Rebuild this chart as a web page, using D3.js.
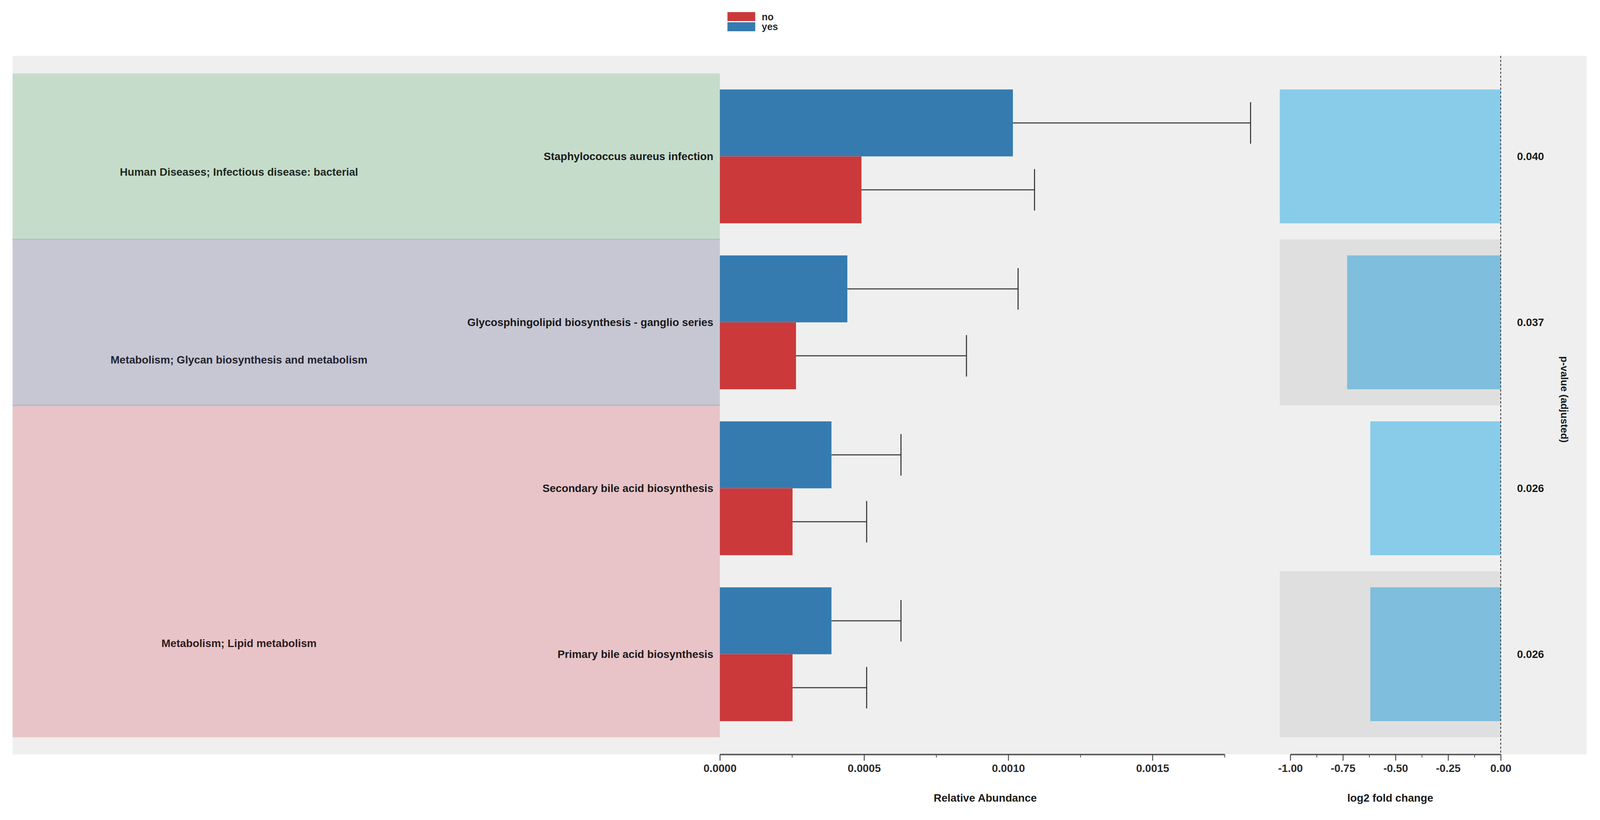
<!DOCTYPE html>
<html>
<head>
<meta charset="utf-8">
<script src="https://cdn.jsdelivr.net/npm/d3@7.9.0/dist/d3.min.js"></script>
<style>
  html, body { margin: 0; padding: 0; background: #fff; overflow: hidden; }
  #chart { width: 100vw; height: 100vh; }
  svg { display: block; width: 100%; height: 100%; font-family: "Liberation Sans", Arial, sans-serif; font-weight: bold; }
</style>
</head>
<body>
<div id="chart"></div>
<script>
/* ── data ─────────────────────────────────────────────────── */
const pathways = [
  'Staphylococcus aureus infection',
  'Glycosphingolipid biosynthesis - ganglio series',
  'Secondary bile acid biosynthesis',
  'Primary bile acid biosynthesis'
];
const categories = [
  'Human Diseases; Infectious disease: bacterial',
  'Metabolism; Glycan biosynthesis and metabolism',
  'Metabolism; Lipid metabolism'
];
const pathwayCategory = [categories[0], categories[1], categories[2], categories[2]];

const groupsLegend = ['no', 'yes'];
const meanYes = [0.001016, 0.000442, 0.000387, 0.000387];
const errYes  = [0.000824, 0.000592, 0.000241, 0.000241];
const meanNo  = [0.000491, 0.000264, 0.000252, 0.000252];
const errNo   = [0.000600, 0.000591, 0.000257, 0.000257];
const log2fc  = [-1.05, -0.73, -0.62, -0.62];
const pAdj    = [0.040, 0.037, 0.026, 0.026];

const abundTicks = [0, 0.0005, 0.001, 0.0015];
const abundMinor = [0.00025, 0.00075, 0.00125, 0.00175];
const fcTicks = [-1, -0.75, -0.5, -0.25, 0];
const fcMinor = [-0.875, -0.625, -0.375, -0.125];

/* ── layout (designed on a 4432 x 2100 canvas; y stretched to the window) ── */
const W = 4432, H0 = 2100;
const vw = window.innerWidth || W, vh = window.innerHeight || H0;
const H = W * vh / vw;
const ky = H / H0;
const Y = v => v * ky;

const panel = { left: 35, right: 4395, top: Y(143), bottom: Y(1932) };
const rowsTop = Y(188), rowsBottom = Y(1888);
const abund = { left: 1994, right: 3464 };
const fc = { left: 3545, right: 4157 };

const groupColor = d3.scaleOrdinal(categories, ['#c6dccb', '#c7c7d4', '#e8c4c8']);
const groupText  = d3.scaleOrdinal(categories, ['#1e2a22', '#23232f', '#2e1c1e']);
const groupColorDk = d3.scaleOrdinal(categories, ['#a9c3bf', '#b3b3c4', '#dcb4b8']);
const barColor = d3.scaleOrdinal(groupsLegend, ['#cb393b', '#357bb0']);

const rows = pathways.map((p, i) => ({
  pathway: p, category: pathwayCategory[i], i,
  yes: meanYes[i], yesErr: errYes[i],
  no: meanNo[i], noErr: errNo[i],
  fc: log2fc[i], p: pAdj[i]
}));

const y = d3.scaleBand().domain(pathways).range([rowsTop, rowsBottom]);
const sub = d3.scaleBand().domain(['yes', 'no']).range([0, y.bandwidth()]).paddingOuter(0.24);

const x = d3.scaleLinear()
  .domain([0, d3.max(rows, d => Math.max(d.yes + d.yesErr, d.no + d.noErr))])
  .range([abund.left, abund.right]);
const xf = d3.scaleLinear()
  .domain([d3.min(rows, d => d.fc), 0])
  .range([fc.left, fc.right]);

const svg = d3.select('#chart').append('svg')
  .attr('viewBox', `0 0 ${W} ${H}`)
  .attr('preserveAspectRatio', 'xMidYMid meet');

/* background panel */
svg.append('rect')
  .attr('x', panel.left).attr('y', panel.top)
  .attr('width', panel.right - panel.left).attr('height', panel.bottom - panel.top)
  .attr('fill', '#efefef');

/* category boxes */
const cats = d3.groups(rows, d => d.category).map(([c, arr]) => ({
  category: c,
  top: y(arr[0].pathway),
  bottom: y(arr[arr.length - 1].pathway) + y.bandwidth()
}));
const labelFrac = [0.595, 0.725, 0.717];

svg.append('g').selectAll('rect')
  .data(cats).join('rect')
  .attr('x', panel.left).attr('y', d => d.top)
  .attr('width', abund.left - panel.left).attr('height', d => d.bottom - d.top)
  .attr('fill', d => groupColor(d.category));

svg.append('g').selectAll('line')
  .data(cats.slice(0, -1)).join('line')
  .attr('x1', panel.left).attr('x2', abund.left)
  .attr('y1', d => d.bottom).attr('y2', d => d.bottom)
  .attr('stroke', d => groupColorDk(d.category)).attr('stroke-width', 3);

svg.append('g').selectAll('text')
  .data(cats).join('text')
  .attr('x', 662)
  .attr('y', (d, i) => d.top + (d.bottom - d.top) * labelFrac[i])
  .attr('text-anchor', 'middle').attr('dominant-baseline', 'central')
  .attr('font-size', 30).attr('fill', d => groupText(d.category))
  .text(d => d.category);

/* pathway labels */
svg.append('g').selectAll('text')
  .data(rows).join('text')
  .attr('x', abund.left - 18)
  .attr('y', d => y(d.pathway) + y.bandwidth() / 2)
  .attr('text-anchor', 'end').attr('dominant-baseline', 'central')
  .attr('font-size', 30).attr('fill', '#1a1a1a')
  .text(d => d.pathway);

/* abundance bars */
const bars = rows.flatMap(d => [
  { row: d, key: 'yes', v: d.yes, e: d.yesErr },
  { row: d, key: 'no', v: d.no, e: d.noErr }
]);
svg.append('g').selectAll('rect')
  .data(bars).join('rect')
  .attr('x', x(0))
  .attr('y', d => y(d.row.pathway) + sub(d.key))
  .attr('width', d => x(d.v) - x(0))
  .attr('height', sub.bandwidth())
  .attr('fill', d => barColor(d.key));

/* error bars */
const eg = svg.append('g').attr('stroke', '#3a3a3a').attr('stroke-width', 3);
eg.selectAll('line.h')
  .data(bars).join('line').attr('class', 'h')
  .attr('x1', d => x(d.v)).attr('x2', d => x(d.v + d.e))
  .attr('y1', d => y(d.row.pathway) + sub(d.key) + sub.bandwidth() / 2)
  .attr('y2', d => y(d.row.pathway) + sub(d.key) + sub.bandwidth() / 2);
eg.selectAll('line.c')
  .data(bars).join('line').attr('class', 'c')
  .attr('x1', d => x(d.v + d.e)).attr('x2', d => x(d.v + d.e))
  .attr('y1', d => y(d.row.pathway) + sub(d.key) + sub.bandwidth() * 0.19)
  .attr('y2', d => y(d.row.pathway) + sub(d.key) + sub.bandwidth() * 0.81);

/* fold change rows */
const bandTop = sub('yes'), bandH = sub('no') + sub.bandwidth() - sub('yes');
svg.append('g').selectAll('rect')
  .data(rows.filter(d => d.i % 2 === 1)).join('rect')
  .attr('x', xf.range()[0]).attr('y', d => y(d.pathway))
  .attr('width', xf.range()[1] - xf.range()[0]).attr('height', y.bandwidth())
  .attr('fill', '#dfdfdf');

svg.append('g').selectAll('rect')
  .data(rows).join('rect')
  .attr('x', d => xf(d.fc))
  .attr('y', d => y(d.pathway) + bandTop)
  .attr('width', d => xf(0) - xf(d.fc))
  .attr('height', bandH)
  .attr('fill', d => d.i % 2 ? '#7fbedc' : '#88cce9');

/* zero line */
svg.append('line')
  .attr('x1', xf(0)).attr('x2', xf(0))
  .attr('y1', panel.top).attr('y2', panel.bottom)
  .attr('stroke', '#444').attr('stroke-width', 2.5)
  .attr('stroke-dasharray', '6,5');

/* p-values */
svg.append('g').selectAll('text')
  .data(rows).join('text')
  .attr('x', 4202)
  .attr('y', d => y(d.pathway) + y.bandwidth() / 2)
  .attr('dominant-baseline', 'central')
  .attr('font-size', 30).attr('fill', '#1a1a1a')
  .text(d => d3.format('.3f')(d.p));

svg.append('text')
  .attr('transform', `translate(4333,${(rowsTop + rowsBottom) / 2 - Y(15)}) rotate(90)`)
  .attr('text-anchor', 'middle').attr('dominant-baseline', 'central')
  .attr('font-size', 28).attr('fill', '#1a1a1a')
  .text('p-value (adjusted)');

/* axes */
function drawAxis(scale, lo, hi, major, minor, fmt) {
  const s = scale.copy().domain([lo, hi]).range([scale(lo), scale(hi)]);
  const g = svg.append('g').attr('transform', `translate(0,${panel.bottom})`);
  g.append('g')
    .call(d3.axisBottom(s).tickValues(minor).tickSize(Y(8)).tickFormat(''))
    .call(a => a.select('.domain').remove())
    .call(a => a.selectAll('line').attr('stroke', '#444').attr('stroke-width', 2));
  g.append('g')
    .call(d3.axisBottom(s).tickValues(major).tickSize(Y(16)).tickSizeOuter(0).tickPadding(Y(9)).tickFormat(fmt))
    .call(a => a.select('.domain').attr('stroke', '#555').attr('stroke-width', 4))
    .call(a => a.selectAll('line').attr('stroke', '#444').attr('stroke-width', 2.5))
    .call(a => a.selectAll('text')
      .attr('font-size', 30).attr('font-weight', 'bold')
      .attr('font-family', '"Liberation Sans", Arial, sans-serif')
      .attr('fill', '#2a2a2a'));
  return g;
}
drawAxis(x, 0, 0.00175, abundTicks, abundMinor, d => d.toFixed(4));
drawAxis(xf, -1, 0, fcTicks, fcMinor, d => d.toFixed(2));

svg.append('text')
  .attr('x', (abund.left + abund.right) / 2).attr('y', Y(2043))
  .attr('text-anchor', 'middle').attr('dominant-baseline', 'central')
  .attr('font-size', 30).attr('fill', '#1a1a1a')
  .text('Relative Abundance');
svg.append('text')
  .attr('x', (fc.left + fc.right) / 2).attr('y', Y(2043))
  .attr('text-anchor', 'middle').attr('dominant-baseline', 'central')
  .attr('font-size', 30).attr('fill', '#1a1a1a')
  .text('log2 fold change');

/* legend */
const leg = svg.append('g').attr('transform', `translate(2015,${Y(31)})`);
leg.selectAll('rect')
  .data(groupsLegend).join('rect')
  .attr('x', 0).attr('y', (d, i) => i * Y(26))
  .attr('width', 77).attr('height', Y(23))
  .attr('fill', d => barColor(d));
leg.selectAll('text')
  .data(groupsLegend).join('text')
  .attr('x', 95).attr('y', (d, i) => i * Y(25) + Y(12))
  .attr('dominant-baseline', 'central')
  .attr('font-size', 27).attr('fill', '#2a2a2a')
  .text(d => d);
</script>
</body>
</html>
